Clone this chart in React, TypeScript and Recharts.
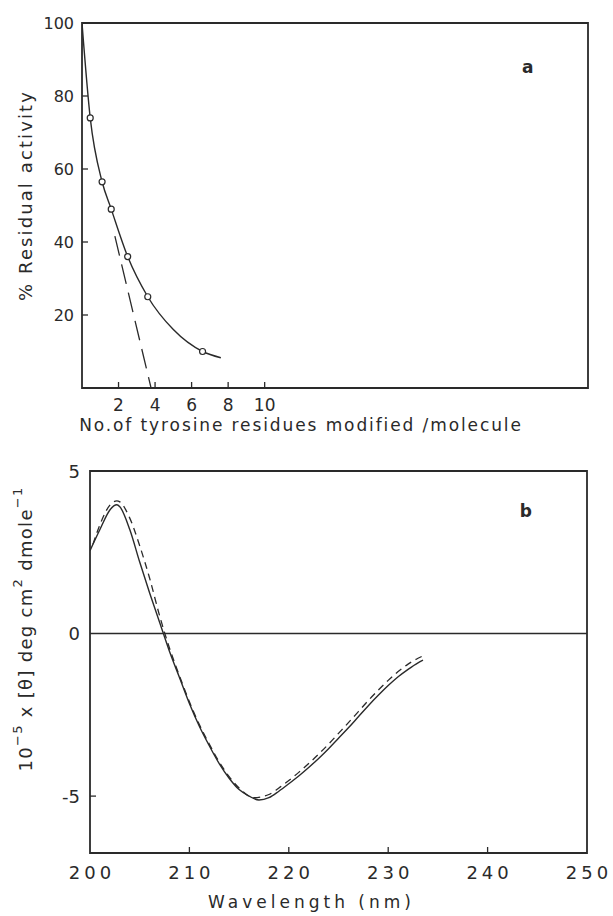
import React from "react";
import {
  ComposedChart,
  Line,
  XAxis,
  YAxis,
  ReferenceArea,
  ReferenceLine,
} from "recharts";

const FONT = "'DejaVu Sans', 'Open Sans', sans-serif";
const INK = "#2a2a2a";

// ---- panel a: residual activity vs tyrosines modified ----
const tyrosineModified = [0.45, 1.1, 1.6, 2.5, 3.6, 6.6];
const residualActivity = [74, 56.5, 49, 36, 25, 10];
const fitX = [0, 0.45, 1.1, 1.6, 2.5, 3.6, 5, 6.6, 7.6];
const fitY = [100, 74, 56.5, 49, 36, 25, 16, 10, 8.3];
const slopeX = [1.8, 3.78];
const slopeY = [41.6, 0];
const xTicksA = [2, 4, 6, 8, 10];
const yTicksA = [20, 40, 60, 80, 100];

// ---- panel b: CD spectra ----
const nativeNm = [
  200, 201, 202, 202.7, 203, 204, 205, 206, 207, 208, 209, 210, 211, 212, 213,
  214, 215, 216, 217, 218, 219, 220, 221, 222, 223, 224, 225, 226, 227, 228,
  229, 230, 231, 232, 233, 233.5,
];
const nativeTheta = [
  2.55, 3.2, 3.8, 3.96, 3.9, 3.2, 2.2, 1.25, 0.35, -0.55, -1.35, -2.15, -2.85,
  -3.45, -4.0, -4.45, -4.8, -5.0, -5.12, -5.05, -4.85, -4.62, -4.38, -4.12,
  -3.84, -3.54, -3.22, -2.9, -2.56, -2.22, -1.9, -1.6, -1.33, -1.1, -0.9, -0.82,
];
const modifiedNm = [
  200.3, 201, 202, 202.7, 203, 204, 205, 206, 207, 208, 209, 210, 211, 212, 213,
  214, 215, 216.5, 218, 219, 220, 221, 222, 223, 224, 225, 226, 227, 228, 229,
  230, 231, 232, 233, 233.4,
];
const modifiedTheta = [
  2.75, 3.35, 3.95, 4.08, 4.05, 3.55, 2.7, 1.7, 0.55, -0.45, -1.3, -2.1, -2.8,
  -3.4, -3.95, -4.4, -4.75, -5.05, -4.95, -4.75, -4.52, -4.27, -4.0, -3.71,
  -3.4, -3.07, -2.74, -2.4, -2.06, -1.74, -1.44, -1.17, -0.94, -0.76, -0.7,
];
const xTicksB = [200, 210, 220, 230, 240, 250];
const yTicksB = [-5, 0, 5];

const zip = (xs: number[], ys: number[]) => xs.map((x, i) => ({ x, y: ys[i] }));

const points = zip(tyrosineModified, residualActivity);
const fit = zip(fitX, fitY);
const slope = zip(slopeX, slopeY);
const native = zip(nativeNm, nativeTheta);
const modified = zip(modifiedNm, modifiedTheta);

const textStyle = { fontFamily: FONT, fill: INK };

// tick mark pointing into the plot + label outside
const bottomTick = (size: number, gap: number, spacing: number, skip: number[] = []) =>
  (props: any) => {
    const { x, y, payload } = props;
    return (
      <g>
        {!skip.includes(payload.value) && (
          <line x1={x} y1={y} x2={x} y2={y - 6} stroke={INK} strokeWidth={1.3} />
        )}
        <text
          x={x + spacing / 2}
          y={y + gap}
          textAnchor="middle"
          dominantBaseline="hanging"
          fontSize={size}
          letterSpacing={spacing}
          {...textStyle}
        >
          {payload.value}
        </text>
      </g>
    );
  };

const leftTick = (size: number, gap: number, skip: number[] = []) => (props: any) => {
  const { x, y, payload } = props;
  return (
    <g>
      {!skip.includes(payload.value) && (
        <line x1={x} y1={y} x2={x + 6} y2={y} stroke={INK} strokeWidth={1.3} />
      )}
      <text
        x={x - gap}
        y={y}
        textAnchor="end"
        dominantBaseline="central"
        fontSize={size}
        {...textStyle}
      >
        {payload.value}
      </text>
    </g>
  );
};

const yTitle = (
  dx: number,
  dy: number,
  size: number,
  spacing: number,
  body: React.ReactNode
) => (props: any) => {
  const vb = props.viewBox || {};
  const cx = vb.x + vb.width + dx;
  const cy = vb.y + vb.height / 2 + dy;
  return (
    <text
      x={cx}
      y={cy}
      transform={`rotate(-90 ${cx} ${cy})`}
      textAnchor="middle"
      dominantBaseline="central"
      fontSize={size}
      letterSpacing={spacing}
      {...textStyle}
    >
      {body}
    </text>
  );
};

const xTitle = (dy: number, dx: number, size: number, spacing: number, body: string) =>
  (props: any) => {
    const vb = props.viewBox || {};
    return (
      <text
        x={vb.x + vb.width / 2 + dx}
        y={vb.y + dy}
        textAnchor="middle"
        dominantBaseline="central"
        fontSize={size}
        letterSpacing={spacing}
        {...textStyle}
      >
        {body}
      </text>
    );
  };

const panelTag = (fx: number, dy: number, body: string) => (props: any) => {
  const vb = props.viewBox || {};
  return (
    <text
      x={vb.x + vb.width * fx}
      y={vb.y + dy}
      textAnchor="middle"
      fontSize={17}
      fontWeight="bold"
      {...textStyle}
    >
      {body}
    </text>
  );
};

function PanelA() {
  return (
    <ComposedChart
      width={613}
      height={445}
      margin={{ top: 23, right: 25, left: 0, bottom: 0 }}
    >
      <XAxis
        type="number"
        dataKey="x"
        domain={[0, 27.7]}
        ticks={xTicksA}
        allowDataOverflow
        height={57}
        axisLine={false}
        tickLine={false}
        tickSize={0}
        tickMargin={0}
        tick={bottomTick(17, 10, 0)}
        label={{
          content: xTitle(37, -34, 17, 1.9, "No.of tyrosine residues modified /molecule"),
        }}
      />
      <YAxis
        type="number"
        domain={[0, 100]}
        ticks={yTicksA}
        allowDataOverflow
        width={82}
        axisLine={false}
        tickLine={false}
        tickSize={0}
        tickMargin={0}
        tick={leftTick(16, 8, [100])}
        label={{ content: yTitle(-57, -10, 18, 2.1, "% Residual activity") }}
      />
      <ReferenceArea
        x1={0}
        x2={27.7}
        y1={0}
        y2={100}
        fill="none"
        stroke={INK}
        strokeWidth={1.8}
        ifOverflow="visible"
        label={{ content: panelTag(0.881, 50, "a") }}
      />
      <Line
        data={fit}
        dataKey="y"
        type="monotone"
        stroke={INK}
        strokeWidth={1.4}
        dot={false}
        isAnimationActive={false}
      />
      <Line
        data={slope}
        dataKey="y"
        type="linear"
        stroke={INK}
        strokeWidth={1.3}
        strokeDasharray="20 9"
        dot={false}
        isAnimationActive={false}
      />
      <Line
        data={points}
        dataKey="y"
        stroke="none"
        dot={{ r: 3, fill: "#fff", stroke: INK, strokeWidth: 1.2 }}
        isAnimationActive={false}
      />
    </ComposedChart>
  );
}

function PanelB() {
  return (
    <ComposedChart
      width={613}
      height={471}
      margin={{ top: 26, right: 26, left: 0, bottom: 0 }}
    >
      <XAxis
        type="number"
        dataKey="x"
        domain={[200, 250]}
        ticks={xTicksB}
        allowDataOverflow
        height={63}
        axisLine={false}
        tickLine={false}
        tickSize={0}
        tickMargin={0}
        tick={bottomTick(18, 12, 4, [200, 250])}
        label={{ content: xTitle(49, -27, 17, 4, "Wavelength (nm)") }}
      />
      <YAxis
        type="number"
        domain={[-6.75, 5]}
        ticks={yTicksB}
        allowDataOverflow
        width={90}
        axisLine={false}
        tickLine={false}
        tickSize={0}
        tickMargin={0}
        tick={leftTick(18, 10, [5, 0])}
        label={{
          content: yTitle(
            -65,
            -33,
            18,
            1.3,
            <>
              10
              <tspan dy={-8} fontSize={13}>
                −5
              </tspan>
              <tspan dy={8}> x [θ] deg cm</tspan>
              <tspan dy={-8} fontSize={13}>
                2
              </tspan>
              <tspan dy={8}> dmole</tspan>
              <tspan dy={-8} fontSize={13}>
                −1
              </tspan>
            </>
          ),
        }}
      />
      <ReferenceArea
        x1={200}
        x2={250}
        y1={-6.75}
        y2={5}
        fill="none"
        stroke={INK}
        strokeWidth={1.8}
        ifOverflow="visible"
        label={{ content: panelTag(0.877, 46, "b") }}
      />
      <ReferenceLine y={0} stroke={INK} strokeWidth={1.5} />
      <Line
        data={native}
        dataKey="y"
        type="monotone"
        stroke={INK}
        strokeWidth={1.4}
        dot={false}
        isAnimationActive={false}
      />
      <Line
        data={modified}
        dataKey="y"
        type="monotone"
        stroke={INK}
        strokeWidth={1.3}
        strokeDasharray="7 5"
        dot={false}
        isAnimationActive={false}
      />
    </ComposedChart>
  );
}

export default function App() {
  return (
    <div
      style={{
        position: "absolute",
        left: 0,
        top: 0,
        width: 613,
        height: 916,
        background: "#fff",
      }}
    >
      <PanelA />
      <PanelB />
    </div>
  );
}
